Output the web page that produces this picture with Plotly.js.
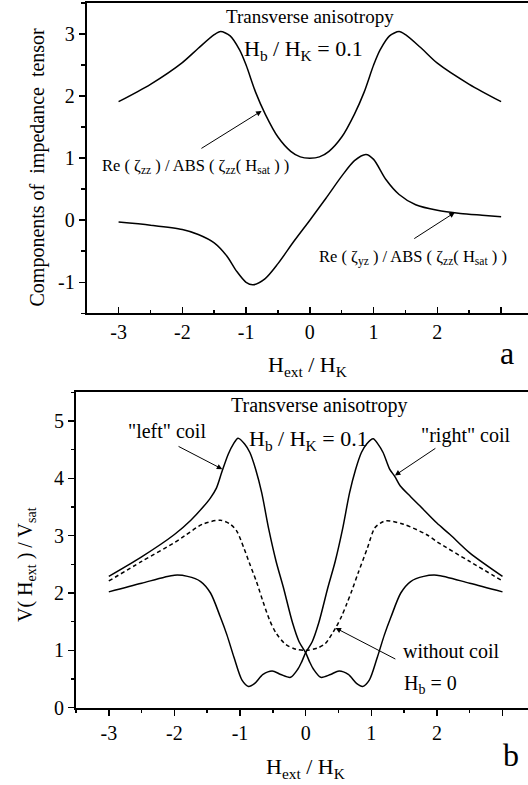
<!DOCTYPE html>
<html>
<head>
<meta charset="utf-8">
<script src="https://cdn.plot.ly/plotly-3.0.1.min.js"></script>
<style>html,body{margin:0;padding:0;overflow:hidden;background:#fff}</style>
</head>
<body>
<div id="chart"></div>
<script>
// ---------- Panel a data ----------
const xZZ = [-3, -2.5, -2, -1.75, -1.5, -1.4, -1.25, -1.1, -1.0, -0.85, -0.7, -0.5, -0.3, -0.15, 0,
             0.15, 0.3, 0.5, 0.7, 0.85, 1.0, 1.1, 1.25, 1.4, 1.5, 1.75, 2, 2.5, 3];
const reZZ = [1.91, 2.19, 2.54, 2.77, 2.99, 3.04, 2.97, 2.74, 2.50, 2.06, 1.71, 1.34, 1.11, 1.02, 1.00,
              1.02, 1.11, 1.34, 1.71, 2.06, 2.50, 2.74, 2.97, 3.04, 2.99, 2.77, 2.53, 2.19, 1.91];
const xYZ = [-3, -2.5, -2, -1.75, -1.5, -1.3, -1.15, -1.0, -0.89, -0.7, -0.5, -0.25, 0,
             0.25, 0.5, 0.7, 0.88, 1.0, 1.19, 1.4, 1.66, 2, 2.36, 2.7, 3];
const reYZ = [-0.03, -0.08, -0.15, -0.23, -0.365, -0.58, -0.82, -1.0, -1.04, -0.94, -0.70, -0.34, 0,
              0.35, 0.71, 0.96, 1.06, 0.98, 0.66, 0.415, 0.25, 0.16, 0.11, 0.08, 0.055];

// ---------- Panel b data ----------
const xLeft = [-3, -2.5, -2, -1.75, -1.57, -1.45, -1.36, -1.28, -1.18, -1.1, -1.03, -0.93, -0.85, -0.76,
               -0.67, -0.56, -0.45, -0.34, -0.2, -0.1, 0, 0.06, 0.12, 0.23, 0.38, 0.51, 0.65, 0.78,
               0.87, 0.97, 1.09, 1.2, 1.3, 1.45, 1.6, 1.8, 2.0, 2.5, 3];
const vLeft = [2.29, 2.63, 3.02, 3.27, 3.49, 3.66, 3.83, 4.10, 4.42, 4.60, 4.70, 4.60, 4.45, 4.15,
               3.75, 3.10, 2.55, 2.10, 1.48, 1.15, 0.96, 0.80, 0.67, 0.53, 0.58, 0.64, 0.58, 0.42,
               0.37, 0.48, 0.87, 1.27, 1.58, 2.00, 2.20, 2.29, 2.31, 2.17, 2.02];
const xRight = [-3, -2.5, -2.0, -1.8, -1.6, -1.45, -1.3, -1.2, -1.09, -0.97, -0.87, -0.78, -0.65, -0.51,
                -0.38, -0.23, -0.12, -0.06, 0, 0.1, 0.2, 0.34, 0.45, 0.56, 0.67, 0.76, 0.85, 0.93, 1.03,
                1.1, 1.18, 1.28, 1.36, 1.44, 1.6, 1.74, 2.0, 2.2, 2.5, 3];
const vRight = [2.02, 2.17, 2.31, 2.29, 2.20, 2.00, 1.58, 1.27, 0.87, 0.48, 0.37, 0.42, 0.58, 0.64,
                0.58, 0.53, 0.67, 0.80, 0.96, 1.15, 1.48, 2.10, 2.55, 3.10, 3.75, 4.15, 4.45, 4.60, 4.69,
                4.60, 4.45, 4.16, 4.03, 3.87, 3.68, 3.52, 3.22, 3.02, 2.70, 2.29];
const xNone = [-3, -2.5, -2, -1.84, -1.57, -1.3, -1.15, -1.05, -0.94, -0.85, -0.75, -0.65, -0.55, -0.45,
               -0.3, -0.15, 0, 0.18, 0.3, 0.456, 0.55, 0.63, 0.71, 0.8, 0.94, 1.05, 1.14, 1.23, 1.49,
               1.84, 2.02, 2.5, 3];
const vNone = [2.21, 2.55, 2.88, 3.00, 3.20, 3.27, 3.20, 3.08, 2.78, 2.50, 2.20, 1.85, 1.53, 1.30,
               1.10, 1.02, 1.00, 1.04, 1.12, 1.39, 1.60, 1.82, 2.06, 2.35, 2.78, 3.13, 3.22, 3.26, 3.20,
               3.02, 2.88, 2.55, 2.21];

// ---------- Tick labels ----------
const xTickVals = [-3, -2, -1, 0, 1, 2, 3];
const xTickText = ['-3', '-2', '-1', '0', '1', '2', ''];
const yTickValsA = [-1, 0, 1, 2, 3];
const yTickTextA = ['-1', '0', '1', '2', '3'];
const yTickValsB = [0, 1, 2, 3, 4, 5];
const yTickTextB = ['0', '1', '2', '3', '4', '5'];

const W = 540, H = 785;
const FONT = 'Liberation Serif, Times New Roman, serif';
const px = v => v / W, py = v => 1 - v / H;

const lineStyle = {color: '#000', width: 1.5, shape: 'spline', smoothing: 0.8};

const traces = [
  {x: xZZ, y: reZZ, xaxis: 'x', yaxis: 'y', mode: 'lines', line: lineStyle, hoverinfo: 'skip'},
  {x: xYZ, y: reYZ, xaxis: 'x', yaxis: 'y', mode: 'lines', line: lineStyle, hoverinfo: 'skip'},
  {x: xLeft, y: vLeft, xaxis: 'x2', yaxis: 'y2', mode: 'lines', line: lineStyle, hoverinfo: 'skip'},
  {x: xRight, y: vRight, xaxis: 'x2', yaxis: 'y2', mode: 'lines', line: lineStyle, hoverinfo: 'skip'},
  {x: xNone, y: vNone, xaxis: 'x2', yaxis: 'y2', mode: 'lines',
   line: Object.assign({}, lineStyle, {dash: '4px,3px'}), hoverinfo: 'skip'}
];

const tickFont = {family: FONT, size: 20, color: '#000'};
function xAxis(domain, anchor, inside) {
  return {
    domain: domain, anchor: anchor, range: [-3.5, 3.5], showgrid: false, zeroline: false,
    showline: true, linecolor: '#000', linewidth: 2, mirror: true,
    ticks: inside ? 'inside' : 'outside', ticklen: 6, tickwidth: 1.5, tickcolor: '#000',
    tickvals: xTickVals, ticktext: xTickText, tickfont: tickFont,
    minor: {ticks: inside ? 'inside' : 'outside', ticklen: 3.5, tickwidth: 1.5, tickcolor: '#000', dtick: 0.5, tick0: 0.5}
  };
}
function yAxis(domain, anchor, range, vals, text) {
  return {
    domain: domain, anchor: anchor, range: range, showgrid: false, zeroline: false,
    showline: true, linecolor: '#000', linewidth: 2,
    ticks: 'outside', ticklen: 6, tickwidth: 1.5, tickcolor: '#000',
    tickvals: vals, ticktext: text, tickfont: tickFont,
    minor: {ticks: 'outside', ticklen: 3.5, tickwidth: 1.5, tickcolor: '#000', dtick: 0.5, tick0: 0.5}
  };
}

function txt(text, x, y, xref, yref, size, extra) {
  return Object.assign({text: text, x: x, y: y, xref: xref, yref: yref, showarrow: false,
    xanchor: 'center', yanchor: 'middle', font: {family: FONT, size: size, color: '#000'}}, extra || {});
}
function arrow(xh, yh, xt, yt, xref, yref) {
  return {text: '', x: xh, y: yh, ax: xt, ay: yt, xref: xref, yref: yref, axref: xref, ayref: yref,
    showarrow: true, arrowhead: 2, arrowsize: 1.1, arrowwidth: 1, arrowcolor: '#000'};
}

const annotations = [
  // panel a
  txt('Transverse anisotropy', 0, 3.275, 'x', 'y', 19),
  txt('H<sub>b</sub> / H<sub>K</sub> = 0.1', -0.10, 2.75, 'x', 'y', 22),
  txt('Re ( ζ<sub>zz</sub> ) / ABS ( ζ<sub>zz</sub>( H<sub>sat</sub> ) )', -1.80, 0.88, 'x', 'y', 16.5),
  txt('Re ( ζ<sub>yz</sub> ) / ABS ( ζ<sub>zz</sub>( H<sub>sat</sub> ) )', 1.614, -0.60, 'x', 'y', 16.5),
  arrow(-0.757, 1.761, -1.724, 1.142, 'x', 'y'),
  arrow(2.273, 0.124, 1.614, -0.312, 'x', 'y'),
  txt('a', px(507), py(353), 'paper', 'paper', 32),
  txt('H<sub>ext</sub> / H<sub>K</sub>', px(307), py(365.5), 'paper', 'paper', 22),
  txt('Components of  impedance  tensor', px(37.5), py(167), 'paper', 'paper', 20, {textangle: -90}),
  // panel b
  txt('Transverse anisotropy', 0.21, 5.27, 'x2', 'y2', 20),
  txt('"left" coil', -2.11, 4.82, 'x2', 'y2', 20),
  txt('H<sub>b</sub> / H<sub>K</sub> = 0.1', 0.04, 4.67, 'x2', 'y2', 22),
  txt('"right" coil', 2.44, 4.75, 'x2', 'y2', 20),
  arrow(-1.27, 4.16, -1.96, 4.57, 'x2', 'y2'),
  arrow(1.36, 4.05, 2.0, 4.54, 'x2', 'y2'),
  txt('without coil', 2.23, 0.99, 'x2', 'y2', 20),
  txt('H<sub>b</sub> = 0', 1.91, 0.40, 'x2', 'y2', 20),
  arrow(0.456, 1.39, 1.39, 0.835, 'x2', 'y2'),
  txt('b', px(511), py(755), 'paper', 'paper', 32),
  txt('H<sub>ext</sub> / H<sub>K</sub>', px(305.5), py(768), 'paper', 'paper', 22),
  txt('V( H<sub>ext</sub> ) / V<sub>sat</sub>', px(26), py(565), 'paper', 'paper', 20, {textangle: -90})
];

const layout = {
  width: W, height: H, margin: {l: 0, r: 0, t: 0, b: 0},
  paper_bgcolor: '#fff', plot_bgcolor: '#fff', showlegend: false,
  xaxis: xAxis([px(86.7), px(533)], 'y', true),
  yaxis: yAxis([py(313.3), py(3)], 'x', [-1.5, 3.5], yTickValsA, yTickTextA),
  xaxis2: xAxis([px(76), px(535.3)], 'y2', false),
  yaxis2: yAxis([py(707.7), py(392.3)], 'x2', [0, 5.5], yTickValsB, yTickTextB),
  annotations: annotations,
  font: {family: FONT, color: '#000'}
};

Plotly.newPlot('chart', traces, layout, {staticPlot: true, displayModeBar: false});
</script>
</body>
</html>
